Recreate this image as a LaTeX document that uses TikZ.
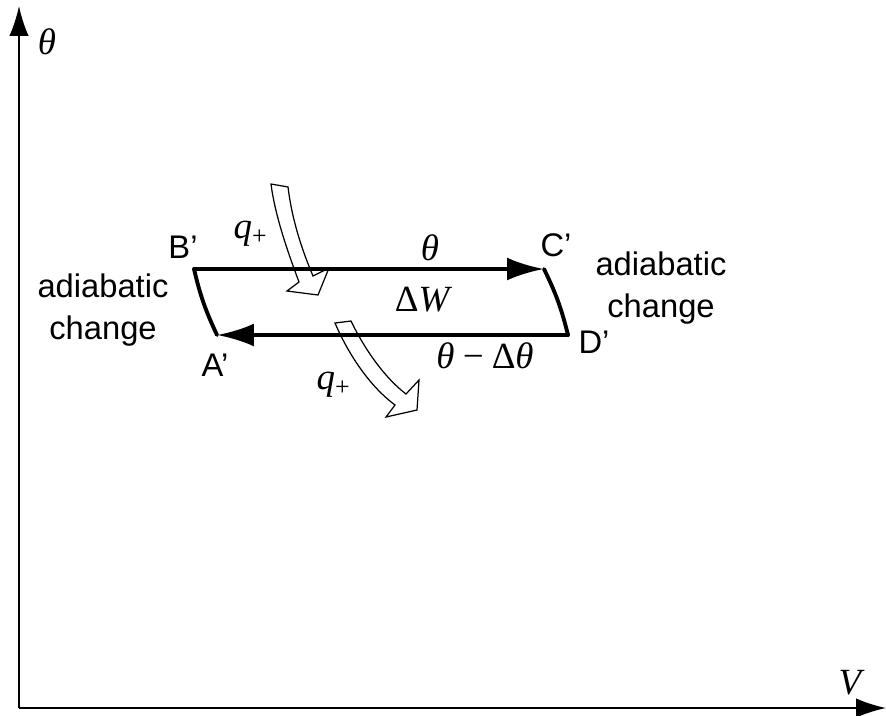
\documentclass[tikz,border=0pt]{standalone}
\usepackage{fontspec}
\setmainfont{Liberation Sans}
\newfontfamily\tms{Liberation Serif}
\usetikzlibrary{arrows.meta}

\begin{document}
\begin{tikzpicture}[
        x=0.01cm, y=-0.01cm,
        every node/.style={inner sep=0pt, font=\fontsize{9.3}{11.8}\selectfont},
        lbl/.style={align=center},
        sym/.style={font=\fontsize{10.5}{12}\selectfont\tms\itshape},
        axis/.style={line width=0.5pt, -{Latex[length=8.5pt,width=5.5pt]}},
        cyc/.style={line width=1.1pt, line cap=round},
        tip/.style={-{Latex[length=10.5pt,width=6.5pt]}},
        heat/.style={draw, line width=0.35pt, line join=miter}
    ]
        \useasboundingbox (0,0) rectangle (886,715);

        % Axes
        \coordinate (o) at (19,708);
        \coordinate (ytop) at (19,6);
        \coordinate (xend) at (886,708);
        \draw[axis] (o) -- (ytop);
        \draw[axis] (o) -- (xend);
        \node[sym] (thetaax) at (47,42) {θ};
        \node[sym] (vax) at (850,683) {V};

        % Heat flows
        \draw[heat] (271,184) -- (288,187) .. controls (292,220) and (302,250) .. (313,276)
            -- (329,268) -- (318,295) -- (287,291) -- (299,282)
            .. controls (287,250) and (275,215) .. (271,184) -- cycle;
        \draw[heat] (335,323) -- (351,321) .. controls (365,350) and (385,378) .. (406,394)
            -- (419,380) -- (417,410) -- (386,417) -- (395,405)
            .. controls (372,388) and (350,358) .. (335,323) -- cycle;

        % Cycle
        \coordinate (b) at (194,269);
        \coordinate (c) at (544,269);
        \coordinate (d) at (568,335);
        \coordinate (a) at (217,335);
        \draw[cyc, tip] (b) -- (c);
        \draw[cyc, tip] (d) -- (a);
        \draw[cyc] (b) to[bend right=6] (a);
        \draw[cyc] (c) to[bend left=6] (d);

        % Labels
        \node (bl) at (183,247) {B’};
        \node (cl) at (556,245) {C’};
        \node (al) at (215,365) {A’};
        \node (dl) at (594,342) {D’};
        \node[lbl] (adleft) at (103,310) {adiabatic\\change};
        \node[lbl] (adright) at (661,288) {adiabatic\\change};
        \node[sym] (thtop) at (430,248) {θ};
        \node[sym] (dw) at (422,300) {{\upshape Δ}W};
        \node[sym] (thbot) at (485,356) {θ\,−\,{\upshape Δ}θ};
        \node[sym] (qin) at (251,234) {q\textsubscript{\upshape +}};
        \node[sym] (qout) at (334,385) {q\textsubscript{\upshape +}};
    \end{tikzpicture}
\end{document}
